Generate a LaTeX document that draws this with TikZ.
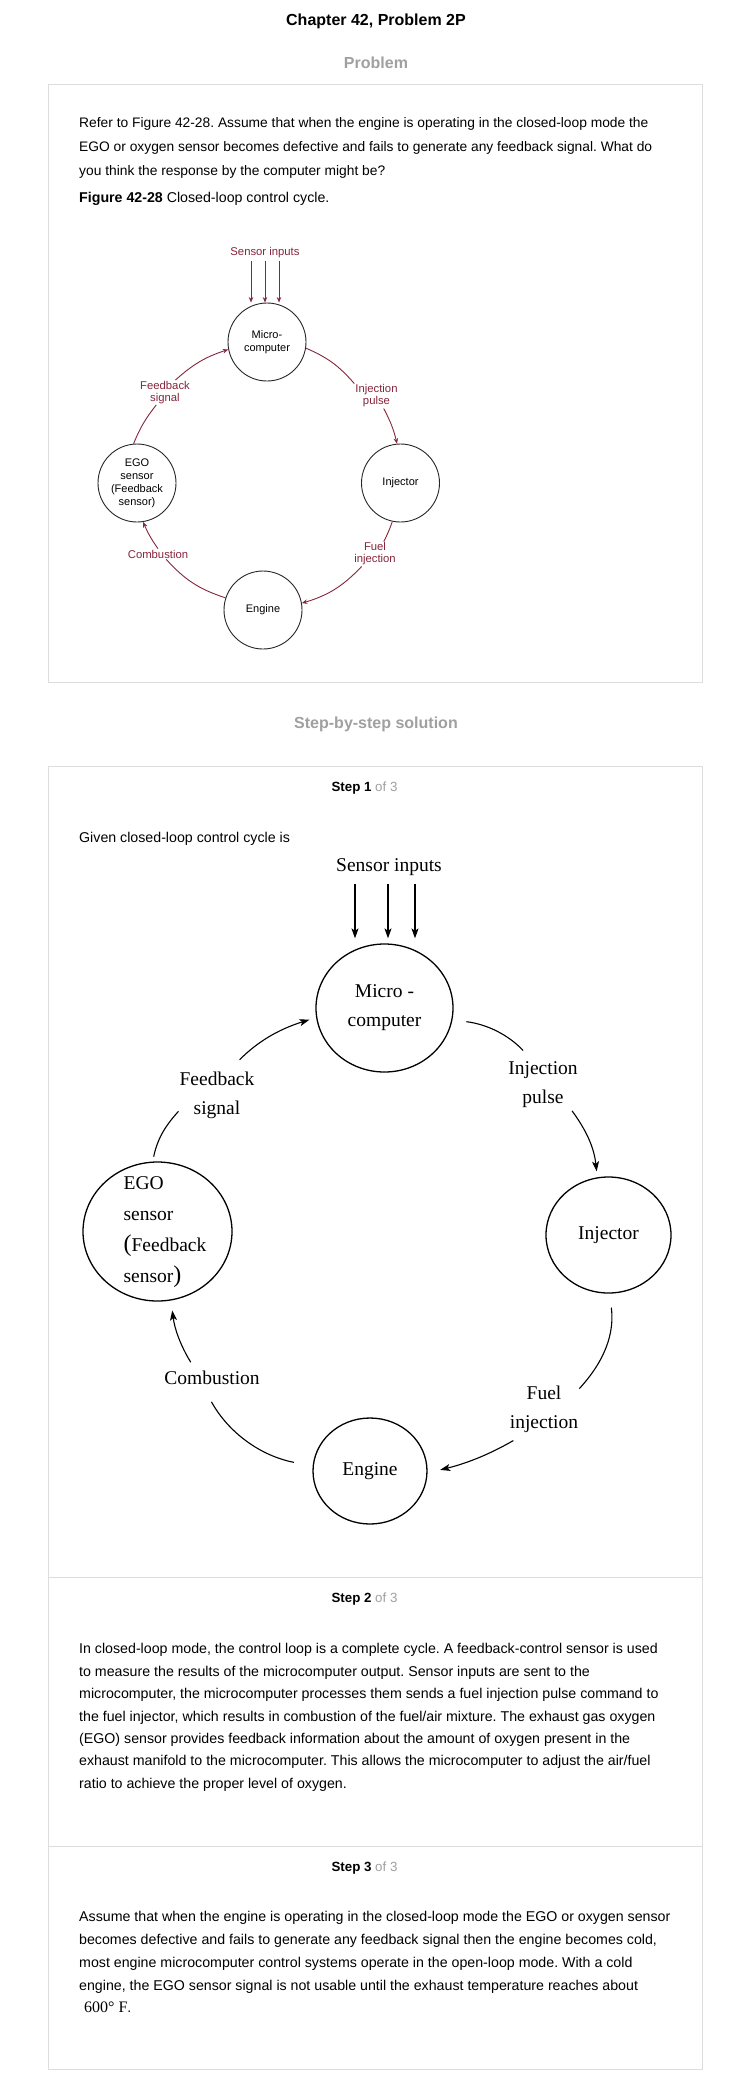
\documentclass[tikz,border=0pt]{standalone}
\usepackage{fontspec}
\setmainfont{Liberation Sans}
\newfontfamily\diagserif{Liberation Serif}
\usepackage{tikz}
\usetikzlibrary{shapes.geometric, arrows.meta, positioning, calc}
\definecolor{scanred}{RGB}{133,38,60}
\definecolor{headgray}{RGB}{160,160,160}
\definecolor{framegray}{RGB}{221,221,221}
\newcommand{\bigparen}[1]{{\fontsize{24}{24}\selectfont #1}}
\frenchspacing

\begin{document}
\begin{tikzpicture}[
    x=1pt, y=1pt,
    headline/.style={font=\bfseries\fontsize{16}{16}\selectfont},
    stephead/.style={font=\fontsize{13.33}{16}\selectfont},
    bodytext/.style={font=\fontsize{14.2}{22.4}\selectfont, inner sep=0pt, align=left},
    scannode/.style={circle, draw=black!85, line width=0.9pt, minimum size=78pt, inner sep=0pt,
                 font=\fontsize{11}{12.5}\selectfont, align=center},
    scanlabel/.style={text=scanred, font=\fontsize{11.3}{12}\selectfont, align=center, inner sep=1pt},
    scanline/.style={draw=scanred, line width=0.9pt},
    scanarrow/.style={scanline, -{Stealth[length=5.5pt, width=4.5pt]}},
    cyclenode/.style={ellipse, draw, line width=1.3pt, inner sep=0pt, align=center,
                 font=\diagserif\fontsize{19.5}{29}\selectfont},
    cyclelabel/.style={font=\diagserif\fontsize{19.5}{29}\selectfont, align=center, inner sep=1pt},
    flowline/.style={line width=1.1pt},
    flowarrow/.style={flowline, -{Stealth[length=10pt, width=7pt, inset=2.5pt]}}
]
    \useasboundingbox (0,0) rectangle (752,-2097);
    \fill[white] (0,0) rectangle (752,-2097);

    % header and problem
    \node[headline] (title) at (376,-21) {Chapter 42, Problem 2P};
    \node[headline, text=headgray] (probhead) at (376,-63) {Problem};
    \draw[framegray] (48,-84) rectangle (702,-682);

    \node[bodytext, font=\fontsize{13.8}{23.7}\selectfont, anchor=north west] (probtext) at (79,-117.4)
        {Refer to Figure 42-28. Assume that when the engine is operating in the closed-loop mode the\\
         EGO or oxygen sensor becomes defective and fails to generate any feedback signal. What do\\
         you think the response by the computer might be?};
    \node[bodytext, anchor=base west] (figcap) at (79,-202.6) {\textbf{Figure 42-28} Closed-loop control cycle.};

    % figure 42-28
    \node[scannode] (smicro) at (267,-342) {Micro-\\computer};
    \node[scannode] (sinj) at (400.5,-483) {Injector};
    \node[scannode] (seng) at (263,-610) {Engine};
    \node[scannode, font=\fontsize{11}{13}\selectfont] (sego) at (137,-483) {EGO\\sensor\\(Feedback\\sensor)};
    \node[scanlabel] (ssens) at (265,-253) {Sensor inputs};
    \node[scanlabel] (sfeed) at (165,-392.5) {Feedback\\signal};
    \node[scanlabel] (spulse) at (376.5,-396) {Injection\\pulse};
    \node[scanlabel] (sfuel) at (375,-554) {Fuel\\injection};
    \node[scanlabel] (scomb) at (158,-554) {Combustion};

    \foreach \dx in {-14,0,14}
        \draw[scanarrow, shorten <=2pt] ([xshift=\dx pt]ssens.south) -- ([xshift=\dx pt]ssens.south |- smicro.north);
    \draw[scanline] (sego.95) to[bend left=8] (sfeed.235);
    \draw[scanarrow] (sfeed.50) to[bend left=12] (smicro.191);
    \draw[scanline] (smicro.-9) to[bend left=13] (spulse.north west);
    \draw[scanarrow] (spulse.-60) to[bend left=7] (sinj.95);
    \draw[scanline] (sinj.-102) to[bend left=4] (sfuel.55);
    \draw[scanarrow] (sfuel.-137) to[bend left=15] (seng.10);
    \draw[scanline] (seng.162) to[bend left=15] (scomb.-33);
    \draw[scanarrow] (scomb.north) to[bend left=6] (sego.-81);

    % solution
    \node[headline, text=headgray] (solhead) at (376,-724) {Step-by-step solution};
    \draw[framegray] (48,-766) rectangle (702,-2069);
    \draw[framegray] (48,-1577) -- (702,-1577);
    \draw[framegray] (48,-1846) -- (702,-1846);

    \node[stephead] (step1) at (364.5,-788) {\textbf{Step 1} \textcolor{headgray}{of 3}};
    \node[bodytext, anchor=base west] (given) at (79,-842.6) {Given closed-loop control cycle is};

    \node[cyclenode, minimum width=137pt, minimum height=128pt] (micro) at (384.5,-1008) {Micro -\\computer};
    \node[cyclenode, minimum width=125pt, minimum height=116pt] (injector) at (608.5,-1235) {Injector};
    \node[cyclenode, minimum width=114pt, minimum height=106pt] (engine) at (370,-1471) {Engine};
    \node[cyclenode, minimum width=149pt, minimum height=139pt] (ego) at (157.5,-1231.5) {};
    \node[cyclelabel, align=left, font=\diagserif\fontsize{19.5}{31}\selectfont] (egotext) at (165,-1232)
        {EGO\\sensor\\\bigparen{(}Feedback\\sensor\bigparen{)}};

    \node[cyclelabel] (sensors) at (389,-867) {Sensor inputs};
    \node[cyclelabel] (feedback) at (217,-1095) {Feedback\\signal};
    \node[cyclelabel] (pulse) at (543,-1085) {Injection\\pulse};
    \node[cyclelabel] (fuel) at (544,-1409) {Fuel\\injection};
    \node[cyclelabel] (combustion) at (212,-1378) {Combustion};

    \foreach \dx in {-34,-1,26}
        \draw[flowarrow, shorten <=7pt, shorten >=5pt] ([xshift=\dx pt]sensors.south) -- ([xshift=\dx pt]sensors.south |- micro.north);
    \draw[flowline, shorten <=5pt] (ego.94) to[bend left=15] (feedback.203);
    \draw[flowarrow, shorten <=15pt, shorten >=7pt] (feedback.64) to[bend left=14] (micro.188);
    \draw[flowline, shorten <=14pt, shorten >=14pt] (micro.-10) to[bend left=20] (pulse.113);
    \draw[flowarrow, shorten <=2pt, shorten >=6pt] (pulse.-41) to[bend left=15] (injector.101);
    \draw[flowline, shorten <=14pt] (injector.-89) to[bend left=25] (fuel.30);
    \draw[flowarrow, shorten <=14pt, shorten >=13pt] (fuel.233) to[bend left=8] (engine.-2);
    \draw[flowline, shorten <=19pt, shorten >=18pt] (engine.175) to[bend left=25] (combustion.221);
    \draw[flowarrow, shorten <=9pt, shorten >=10pt] (combustion.154) to[bend left=12] (ego.-79);

    \node[stephead] (step2) at (364.5,-1599) {\textbf{Step 2} \textcolor{headgray}{of 3}};
    \node[bodytext, anchor=north west] (steptwo) at (79,-1643.4)
        {In closed-loop mode, the control loop is a complete cycle. A feedback-control sensor is used\\
         to measure the results of the microcomputer output. Sensor inputs are sent to the\\
         microcomputer, the microcomputer processes them sends a fuel injection pulse command to\\
         the fuel injector, which results in combustion of the fuel/air mixture. The exhaust gas oxygen\\
         (EGO) sensor provides feedback information about the amount of oxygen present in the\\
         exhaust manifold to the microcomputer. This allows the microcomputer to adjust the air/fuel\\
         ratio to achieve the proper level of oxygen.};

    \node[stephead] (step3) at (364.5,-1868) {\textbf{Step 3} \textcolor{headgray}{of 3}};
    \node[bodytext, font=\fontsize{14.2}{22.7}\selectfont, anchor=north west] (stepthree) at (79,-1911.4)
        {Assume that when the engine is operating in the closed-loop mode the EGO or oxygen sensor\\
         becomes defective and fails to generate any feedback signal then the engine becomes cold,\\
         most engine microcomputer control systems operate in the open-loop mode. With a cold\\
         engine, the EGO sensor signal is not usable until the exhaust temperature reaches about\\
         \hspace*{5pt}{\diagserif\fontsize{16}{16}\selectfont 600°\ F}.};
\end{tikzpicture}
\end{document}
